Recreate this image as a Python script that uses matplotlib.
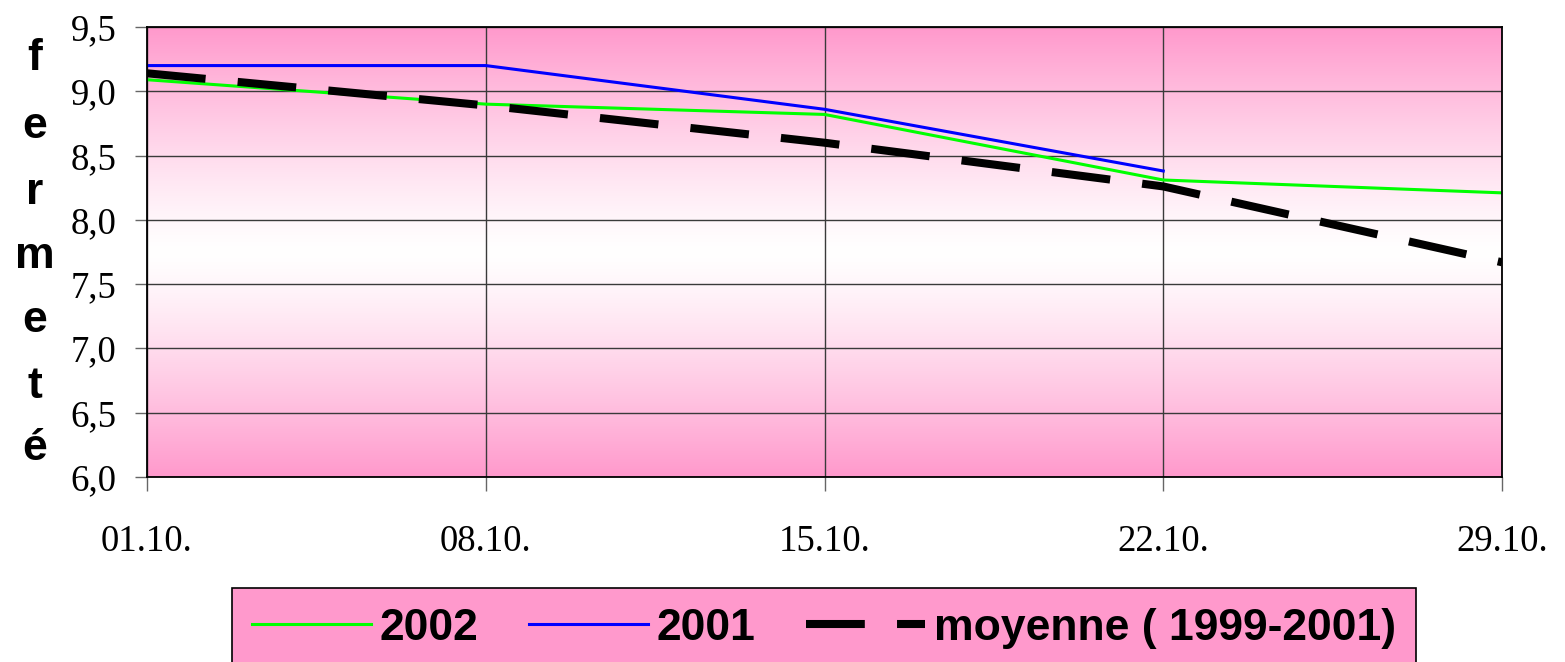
import numpy as np
import matplotlib
matplotlib.use("Agg")
import matplotlib.pyplot as plt
from matplotlib.colors import to_rgb

# ---- data ----
dates = ["01.10.", "08.10.", "15.10.", "22.10.", "29.10."]
s2002 = [9.09, 8.90, 8.82, 8.31, 8.21]
s2001 = [9.20, 9.20, 8.86, 8.38]
moyenne = [9.14, 8.89, 8.60, 8.26, 7.67]
yticks = [6.0, 6.5, 7.0, 7.5, 8.0, 8.5, 9.0, 9.5]
ytick_labels = ["6,0", "6,5", "7,0", "7,5", "8,0", "8,5", "9,0", "9,5"]
ylabel = "fermeté"
labels = ["2002", "2001", "moyenne ( 1999-2001)"]

W, H = 1565, 662
fig = plt.figure(figsize=(W / 100, H / 100), dpi=100)
left, right, top, bottom = 147, 1502, 27, 477
ax = fig.add_axes([left / W, 1 - bottom / H, (right - left) / W, (bottom - top) / H])

pink = np.array(to_rgb("#FF99CC"))
white = np.array([1.0, 1.0, 1.0])
t = np.abs(np.linspace(0, 1, 400) - 0.5) * 2
t = t ** 1.25
grad = (white[None, :] * (1 - t[:, None]) + pink[None, :] * t[:, None])[:, None, :]
ax.imshow(grad, extent=[0, 1, 0, 1], transform=ax.transAxes, aspect="auto", zorder=0)

x = np.arange(len(dates))
serif = "Liberation Serif"
sans = "Liberation Sans"

l1, = ax.plot(x[:len(s2002)], s2002, color="#00FF00", lw=2.2, zorder=3)
l2, = ax.plot(x[:len(s2001)], s2001, color="#0000FF", lw=2.2, zorder=3)
l3, = ax.plot(x[:len(moyenne)], moyenne, color="black", lw=5.8, zorder=4,
              dashes=(7.3, 4.0), solid_capstyle="butt", dash_capstyle="butt")

ax.set_xlim(0, len(dates) - 1)
ax.set_ylim(6.0, 9.5)
ax.set_xticks(x)
ax.set_xticklabels(dates, fontfamily=serif, fontsize=26.5)
ax.set_yticks(yticks)
ax.set_yticklabels(ytick_labels, fontfamily=serif, fontsize=26.5)
ax.grid(True, color="#3a3a3a", lw=1.0, zorder=1)
ax.tick_params(axis="y", direction="out", length=9, width=1, color="#666666", pad=13)
ax.tick_params(axis="x", direction="out", length=10, width=1, color="#666666", pad=24)
for sp in ax.spines.values():
    sp.set_color("black")
    sp.set_linewidth(1.3)
    sp.set_zorder(5)
for gl in ax.get_xgridlines() + ax.get_ygridlines():
    gl.set_zorder(1)

ys = [58, 127, 192, 256, 320, 386, 449]
for ch, yy in zip(ylabel, ys):
    fig.text(35 / W, 1 - yy / H, ch, fontfamily=sans, fontweight="bold",
             fontsize=32, ha="center", va="center")

leg = fig.legend([l1, l2, l3], labels, loc="upper center",
                 bbox_to_anchor=(824 / W, 1 - 588 / H), ncol=3,
                 prop={"family": sans, "weight": "bold", "size": 32},
                 frameon=True, fancybox=False, facecolor="#FF99CC",
                 edgecolor="black", framealpha=1, handlelength=2.66,
                 handletextpad=0.2, columnspacing=1.15, borderpad=0.45,
                 borderaxespad=0)
leg.get_frame().set_linewidth(1.2)

fig.savefig("out.png", dpi=100)
